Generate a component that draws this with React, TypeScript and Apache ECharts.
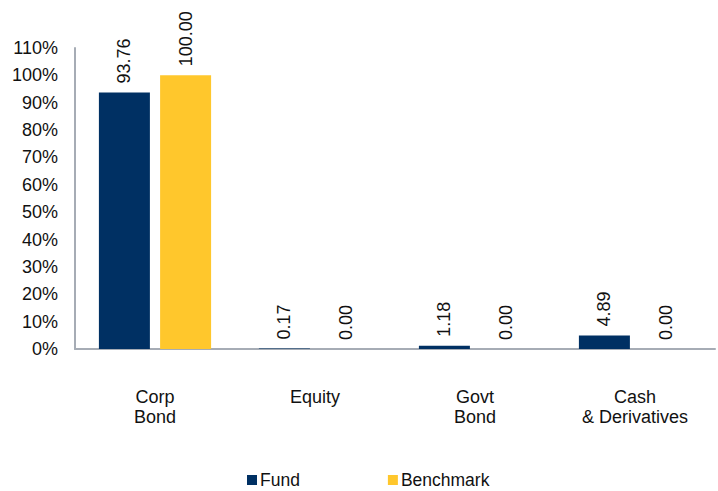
import React, { useEffect, useRef } from "react";
import * as echarts from "echarts";

const categories = ["Corp\nBond", "Equity", "Govt\nBond", "Cash\n& Derivatives"];
const fundValues = [93.76, 0.17, 1.18, 4.89];
const benchmarkValues = [100.0, 0.0, 0.0, 0.0];
const seriesNames = ["Fund", "Benchmark"];

const FONT = "'Liberation Sans', Arial, sans-serif";
const NAVY = "#003063";
const GOLD = "#FFC72C";
const FS = 18;

export default function App() {
  const ref = useRef<HTMLDivElement>(null);
  useEffect(() => {
    if (!ref.current) return;
    const chart = echarts.init(ref.current, undefined, { renderer: "svg" });
    const label = {
      show: true,
      position: "top" as const,
      rotate: 90,
      align: "left" as const,
      verticalAlign: "middle" as const,
      distance: 9,
      fontSize: FS,
      fontFamily: FONT,
      color: "#111",
      formatter: (p: any) => Number(p.value).toFixed(2),
    };
    chart.setOption({
      animation: false,
      textStyle: { fontFamily: FONT },
      grid: { left: 75, right: 3, top: 48, bottom: 142 },
      legend: {
        left: 242,
        top: 466,
        padding: [5, 5, 0, 5],
        itemWidth: 10,
        itemHeight: 10,
        itemGap: 88,
        icon: "rect",
        textStyle: {
          fontSize: 17.5,
          lineHeight: 16,
          fontFamily: FONT,
          color: "#111",
          padding: [0, 0, 0, -2],
        },
        data: seriesNames,
      },
      xAxis: {
        type: "category",
        data: categories,
        axisLine: { show: true, lineStyle: { color: "#A6ACB5", width: 2 } },
        axisTick: { show: false },
        axisLabel: {
          margin: 38,
          fontSize: FS,
          lineHeight: 20,
          fontFamily: FONT,
          color: "#111",
          interval: 0,
        },
      },
      yAxis: {
        type: "value",
        min: 0,
        max: 110,
        interval: 10,
        axisLine: { show: true, lineStyle: { color: "#A6ACB5", width: 2 } },
        axisTick: { show: false },
        splitLine: { show: false },
        axisLabel: {
          formatter: "{value}%",
          margin: 17,
          fontSize: FS,
          fontFamily: FONT,
          color: "#111",
        },
      },
      series: [
        {
          name: seriesNames[0],
          type: "bar",
          data: fundValues,
          itemStyle: { color: NAVY },
          barWidth: 51,
          barGap: "20%",
          label,
        },
        {
          name: seriesNames[1],
          type: "bar",
          data: benchmarkValues,
          itemStyle: { color: GOLD },
          barWidth: 51,
          barGap: "20%",
          label,
        },
      ],
    });
    return () => chart.dispose();
  }, []);
  return (
    <div
      ref={ref}
      style={{ position: "fixed", left: 0, top: 0, width: 718, height: 491, background: "#fff" }}
    />
  );
}
